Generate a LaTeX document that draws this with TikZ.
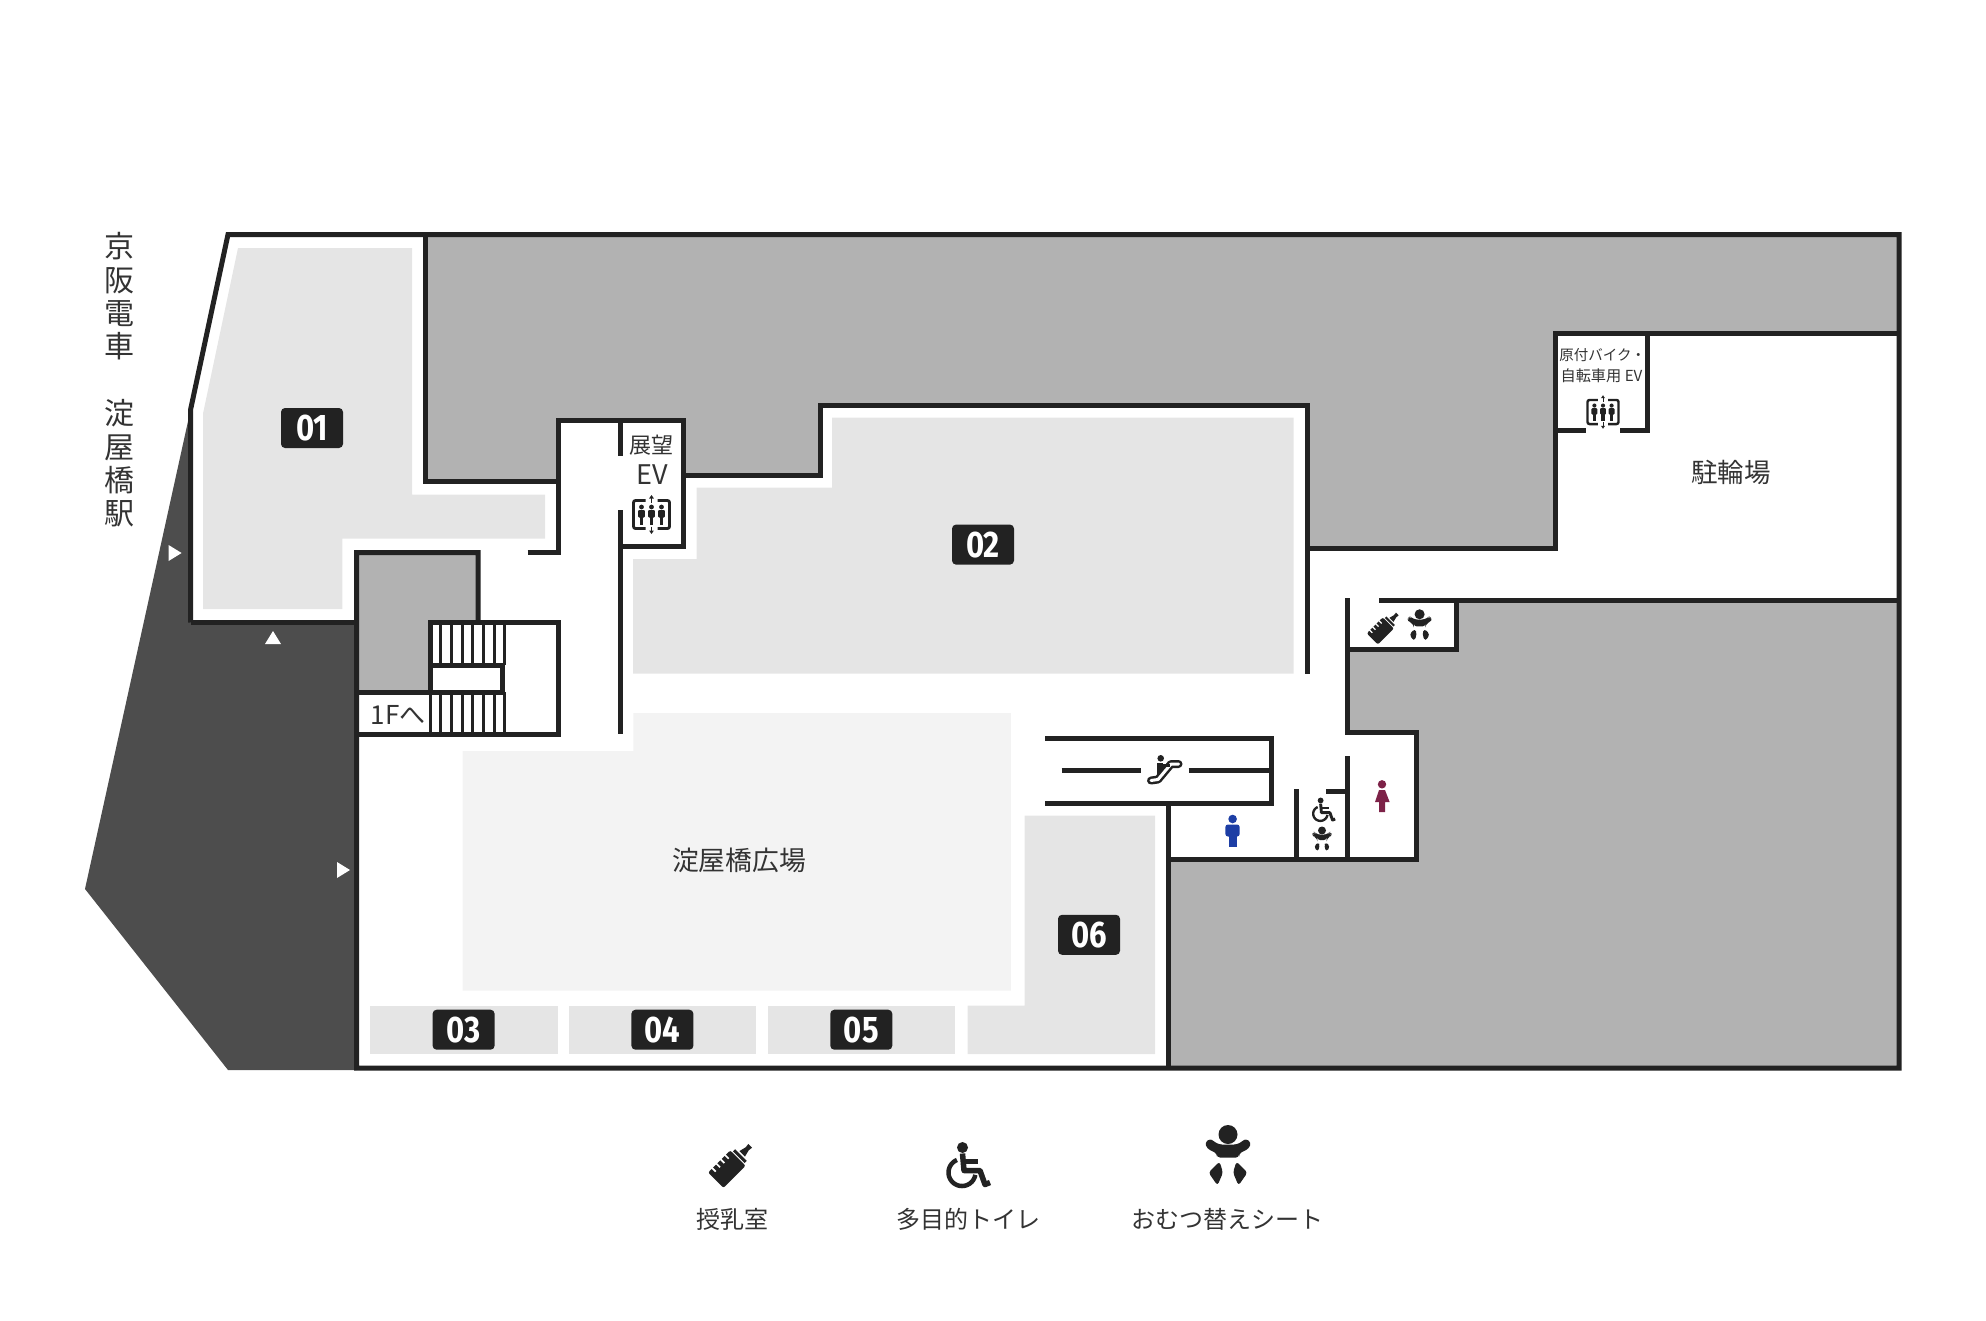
\documentclass[tikz,border=0pt]{standalone}
\usepackage{fontspec}
\setmainfont{Noto Sans CJK JP}
\newfontfamily\numfont[FakeStretch=0.84]{Fira Sans}
\definecolor{WallBlack}{RGB}{34, 34, 34}
\definecolor{TextGray}{RGB}{51, 51, 51}
\definecolor{BackGray}{RGB}{178, 178, 178}
\definecolor{RailGray}{RGB}{77, 77, 77}
\definecolor{ShopGray}{RGB}{229, 229, 229}
\definecolor{PlazaGray}{RGB}{243, 243, 243}
\definecolor{ManBlue}{RGB}{29, 62, 165}
\definecolor{WomanRed}{RGB}{125, 34, 72}
\usetikzlibrary{positioning}
\tikzset{
    wall/.style={line width=5pt, color=WallBlack},
    tread/.style={line width=3pt, color=WallBlack},
    numtag/.style={fill=WallBlack, text=white, rounded corners=4pt, minimum width=62pt, minimum height=40pt, inner sep=0pt, font=\numfont\bfseries\fontsize{37}{37}\selectfont},
    jptext/.style={text=TextGray, inner sep=0pt, align=center, font=\fontsize{#1}{#1}\selectfont},
    pics/babyicon/.style={code={
        \begin{scope}[scale=#1, color=WallBlack]
            \fill (0,-21) ellipse (9.5 and 9.5);
            \fill[rounded corners=3pt] (-23,-13) -- (-18,-17) -- (-14,-14) -- (-9,-11) -- (9,-11) -- (14,-14) -- (18,-17) -- (23,-13) -- (21,-7) -- (11,-2) -- (11,2) -- (-11,2) -- (-11,-2) -- (-21,-7) -- cycle;
            \fill[rounded corners=3pt] (-8.5,6) -- (-5,17) -- (-10.5,30) -- (-19.5,17) -- cycle;
            \fill[rounded corners=3pt] (8.5,6) -- (5,17) -- (10.5,30) -- (19.5,17) -- cycle;
        \end{scope}
    }},
    pics/bottleicon/.style={code={
        \begin{scope}[scale=#1, rotate=-45, color=WallBlack]
            \fill[rounded corners=2pt] (-12.5,28) rectangle (12.5,-8);
            \fill (-9.5,-13) rectangle (9.5,-9.5);
            \fill (-4.5,-15) -- (4.5,-15) -- (2.5,-23) -- (3,-28) -- (-3,-28) -- (-2.5,-23) -- cycle;
            \foreach \t in {0,7,14,21} {
                \draw[white, line width=#1*2pt] (-13.5,\t) -- (-7,\t);
            }
        \end{scope}
    }},
    pics/chairicon/.style={code={
        \begin{scope}[scale=#1, color=WallBlack]
            \fill (-4.5,-18) circle[radius=5.5];
            \draw[line width=#1*4.5pt] plot[domain=112:350, samples=40, variable=\t] ({-5+13.5*cos(\t)}, {7-13.5*sin(\t)});
            \draw[line width=#1*5.5pt, line join=round] (-4.5,-12) -- (-3,5) -- (13,5) -- (18,19) -- (23,17);
            \draw[line width=#1*5pt] (-4,-4) -- (11,-4);
        \end{scope}
    }},
    pics/lifticon/.style={code={
        \begin{scope}[scale=#1, color=WallBlack]
            \draw[line width=#1*2.8pt, rounded corners=2pt] (-6,-14) -- (-18,-14) -- (-18,14) -- (-6,14);
            \draw[line width=#1*2.8pt, rounded corners=2pt] (6,-14) -- (18,-14) -- (18,14) -- (6,14);
            \draw[line width=#1*1.2pt] (0,-17) -- (0,-12) (0,12) -- (0,17);
            \fill (-2.4,-16) -- (2.4,-16) -- (0,-19.5) -- cycle;
            \fill (-2.4,16) -- (2.4,16) -- (0,19.5) -- cycle;
            \foreach \x in {-10,0,10} {
                \fill (\x,-7.5) circle[radius=2.4];
                \fill[rounded corners=1pt] ({\x-3.4},-4.5) rectangle ({\x+3.4},3);
                \fill ({\x-1.9},2) rectangle ({\x+1.9},10.5);
            }
        \end{scope}
    }},
    pics/stairicon/.style={code={
        \fill[WallBlack] (-3.3,-12.2) circle[radius=3.3];
        \fill[WallBlack] (-6.7,-7.5) rectangle (-0.7,3);
        \draw[WallBlack, line width=8pt, line join=round, line cap=round] (14.5,-6.5) -- (7,-6.5) -- (-6,9) -- (-13,10);
        \draw[white, line width=3pt, line join=round, line cap=round] (14.5,-6.5) -- (7,-6.5) -- (-6,9) -- (-13,10);
        \draw[WallBlack, line width=3pt] (-3,-5.5) -- (6,-5.5);
    }}
}
\begin{document}
\begin{tikzpicture}[x=1pt, y=-1pt]
    \useasboundingbox (0,0) rectangle (1986,1320);

    % Areas behind the walls
    \fill[BackGray] (425,234.5) -- (1899,234.5) -- (1899,333.6) -- (1555.7,333.6) -- (1555.7,548.6) -- (1307,548.6) -- (1307,405) -- (820.6,405) -- (820.6,475) -- (683,475) -- (683,420) -- (558.5,420) -- (558.5,481) -- (425,481) -- cycle;
    \fill[BackGray] (1456.6,600.4) -- (1899,600.4) -- (1899,1068) -- (1168,1068) -- (1168,859.3) -- (1416.4,859.3) -- (1416.4,732.5) -- (1347,732.5) -- (1347,649.6) -- (1456.6,649.6) -- cycle;
    \fill[BackGray] (356,552.7) -- (478,552.7) -- (478,622.3) -- (430,622.3) -- (430,692) -- (356,692) -- cycle;
    \fill[RailGray] (190.5,410) -- (85,889) -- (228,1070) -- (356.5,1070) -- (356.5,622.5) -- (190.5,622.5) -- cycle;

    % Shops
    \fill[ShopGray] (238,248) -- (412,248) -- (412,494.6) -- (545,494.6) -- (545,538.6) -- (342.4,538.6) -- (342.4,609) -- (203,609) -- (203,413.6) -- cycle;
    \fill[ShopGray] (832,417.5) -- (1293.7,417.5) -- (1293.7,673.6) -- (633,673.6) -- (633,559) -- (696.5,559) -- (696.5,487.5) -- (832,487.5) -- cycle;
    \fill[ShopGray] (1024.6,815.7) -- (1155,815.7) -- (1155,1054) -- (967.7,1054) -- (967.7,1005.7) -- (1024.6,1005.7) -- cycle;
    \foreach \x in {370,568.7,767.6} {
        \fill[ShopGray] (\x,1005.7) rectangle ({\x+187.7},1054);
    }
    \fill[PlazaGray] (462.6,751) -- (633.3,751) -- (633.3,713) -- (1010.8,713) -- (1010.8,990.5) -- (462.6,990.5) -- cycle;

    % Walls
    \draw[wall] (190.5,622.5) -- (190.5,410) -- (228,234.5) -- (1899,234.5) -- (1899,1068) -- (356.5,1068) -- (356.5,552.7) -- (478,552.7) -- (478,622.3);
    \draw[wall] (190.5,622.5) -- (356,622.5);
    \draw[wall] (425,234.5) -- (425,481) -- (558.5,481);
    \draw[wall] (527.5,552.7) -- (558.5,552.7) -- (558.5,420) -- (683,420) -- (683,546) -- (620,546);
    \draw[wall] (620,420) -- (620,456) (620,510) -- (620,734);
    \draw[wall] (683,475) -- (820.6,475) -- (820.6,405) -- (1307,405) -- (1307,673.6);
    \draw[wall] (1307,548.6) -- (1555.7,548.6) -- (1555.7,333.6) -- (1899,333.6);
    \draw[wall] (1647,333.6) -- (1647,430.7) -- (1619.6,430.7) (1555.7,430.7) -- (1586,430.7);
    \draw[wall] (1379.4,600.4) -- (1899,600.4);
    \draw[wall] (1456.6,600.4) -- (1456.6,649.6) -- (1347,649.6);
    \draw[wall] (1347,598) -- (1347,732.5) -- (1416.4,732.5) -- (1416.4,859.3) -- (1168,859.3);
    \draw[wall] (1168,803) -- (1168,1068);
    \draw[wall] (1045.4,738.6) -- (1271.3,738.6) -- (1271.3,803) -- (1045.4,803);
    \draw[wall] (1061.5,770.4) -- (1140.5,770.4) (1188.7,770.4) -- (1271.3,770.4);
    \draw[wall] (1296.8,789) -- (1296.8,859.3) (1347,756.4) -- (1347,859.3) (1326,791.4) -- (1347,791.4);

    % Stairs
    \draw[wall] (430,692) -- (430,622.3) -- (558.3,622.3) -- (558.3,734) -- (356,734);
    \draw[wall] (430,665) -- (502.7,665) -- (502.7,692) (356,692) -- (504,692);
    \draw[tread] (430,692) -- (430,734);
    \foreach \x in {440.7,451.3,462,472.6,483.3,494,504.5} {
        \draw[tread] (\x,622.3) -- (\x,665);
        \draw[tread] (\x,692) -- (\x,734);
    }

    % Entrance marks
    \fill[white] (168.6,545) -- (181.6,553) -- (168.6,561) -- cycle;
    \fill[white] (265,644) -- (281,644) -- (273,631) -- cycle;
    \fill[white] (337,862) -- (350,870) -- (337,878) -- cycle;

    % Shop numbers
    \node[numtag] (num01) at (312,428) {01};
    \node[numtag] (num02) at (983,544.6) {02};
    \foreach \x/\lbl in {463.6/03,662.4/04,861.3/05} {
        \node[numtag] (num\lbl) at (\x,1029.7) {\lbl};
    }
    \node[numtag] (num06) at (1089,934.8) {06};

    % Labels
    \node[jptext=30, font=\fontsize{30}{33.4}\selectfont] (station) at (119.5,380) {京\\阪\\電\\車\\[33.4pt]淀\\屋\\橋\\駅};
    \node[jptext=22] (viewlabel) at (651,445.6) {展望};
    \node[jptext=27] (viewev) at (652,475) {EV};
    \node[jptext=26] (tofirst) at (398,714.5) {1Fへ};
    \node[jptext=26.8] (plazalabel) at (739,860) {淀屋橋広場};
    \node[jptext=26.5] (bikelabel) at (1731,472) {駐輪場};
    \node[jptext=14.5] (bikeevtop) at (1602.5,354.6) {原付バイク・};
    \node[jptext=15.2] (bikeevlow) at (1601.5,375.4) {自転車用 EV};

    % Icons on the plan
    \pic at (651.5,514.5) {lifticon=1};
    \pic at (1603,412) {lifticon=0.86};
    \pic at (1384.8,626.5) {bottleicon=0.63};
    \pic at (1419.6,625.4) {babyicon=0.53};
    \pic at (1323,810) {chairicon=0.53};
    \pic at (1322,839.3) {babyicon=0.42};
    \pic at (1164,770.5) {stairicon};

    % Man
    \fill[ManBlue] (1232.6,819) circle[radius=4.3];
    \fill[ManBlue, rounded corners=2.5pt] (1225.4,836.5) -- (1225.4,824.5) -- (1239.6,824.5) -- (1239.6,836.5) -- cycle;
    \fill[ManBlue] (1228.6,834) rectangle (1236.6,846.8);

    % Woman
    \fill[WomanRed] (1382,784.3) circle[radius=4.2];
    \fill[WomanRed] (1379,790) -- (1385,790) -- (1389.6,802) -- (1385,802) -- (1385,812) -- (1379,812) -- (1379,802) -- (1375,802) -- cycle;

    % Legend
    \pic at (733,1163) {bottleicon=0.87};
    \pic at (967,1165.5) {chairicon=1};
    \pic at (1228,1155.5) {babyicon=1};
    \node[jptext=24] (nursing) at (732,1219.5) {授乳室};
    \node[jptext=24] (toilet) at (968.2,1219.5) {多目的トイレ};
    \node[jptext=24] (diaper) at (1227.8,1219.5) {おむつ替えシート};
\end{tikzpicture}
\end{document}
